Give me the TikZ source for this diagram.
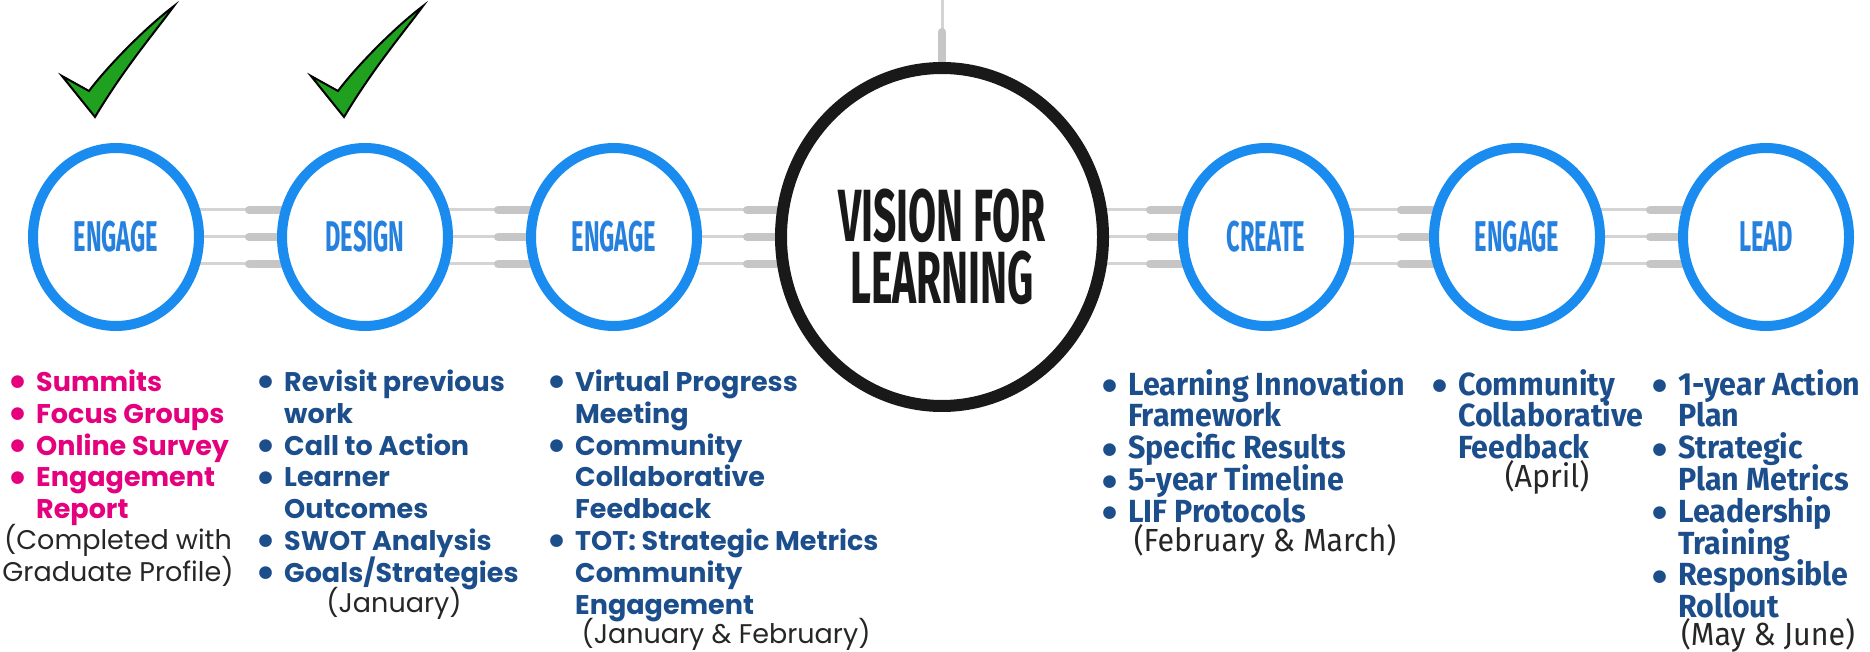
\documentclass[tikz,border=0pt]{standalone}
\usepackage{fontspec}
\setmainfont{Poppins}
\newfontfamily\listfont{Poppins}
\newfontfamily\stagefont{Fira Sans}[FakeStretch=0.55]
\newfontfamily\planfont{Fira Sans}[FakeStretch=0.95]
\newfontfamily\dotfont{DejaVu Sans}
\usetikzlibrary{shapes.geometric,backgrounds,positioning}

\definecolor{ringblue}{HTML}{1A8CF0}
\definecolor{stageblue}{HTML}{2580DE}
\definecolor{navy}{HTML}{1C4E8C}
\definecolor{pinktext}{HTML}{E5007D}
\definecolor{wiregray}{HTML}{D4D4D4}
\definecolor{pluggray}{HTML}{C6C6C6}
\definecolor{tickgreen}{HTML}{1FA01F}
\definecolor{paren}{HTML}{262626}

\newcommand\bul{\makebox[26pt][l]{\hspace*{-4pt}\raisebox{-4.5pt}{\dotfont\fontsize{36}{36}\selectfont •}}}
\newcommand\cont{\hspace*{26pt}}
\newcommand\tightlines{\lineskiplimit=-50pt\lineskip=0pt}

\tikzset{
  stage/.style={ellipse, draw=ringblue, line width=10pt, fill=white,
    minimum width=166pt, minimum height=178pt, inner sep=0pt,
    text=stageblue, font=\stagefont\bfseries\fontsize{43}{43}\selectfont},
  vision/.style={ellipse, draw=black!90, line width=12pt, fill=white,
    minimum width=322pt, minimum height=338pt, inner sep=0pt},
  visiontext/.style={align=center, inner sep=0pt, text=black!90,
    font=\stagefont\bfseries\fontsize{74}{62}\selectfont\tightlines},
  wire/.style={wiregray, line width=3pt},
  plug/.style={pluggray, line width=8pt, line cap=round},
  plan/.style={anchor=north west, align=left, inner sep=0pt,
    font=\listfont\bfseries\fontsize{27}{31.8}\selectfont\tightlines},
  cplan/.style={anchor=north west, align=left, inner sep=0pt, text=navy,
    font=\planfont\bfseries\fontsize{32}{31.8}\selectfont\tightlines},
  note/.style={anchor=north, align=center, inner sep=0pt, text=paren,
    font=\listfont\fontsize{27}{31.8}\selectfont\tightlines},
  cnote/.style={anchor=north, align=center, inner sep=0pt, text=paren,
    font=\planfont\fontsize{32}{31.8}\selectfont\tightlines},
  tick/.pic={
    \filldraw[fill=tickgreen, draw=black, line width=2pt, line join=miter]
      (-33,-41) -- (-6,-26) .. controls (8,-45) and (45,-85) .. (79,-111)
      .. controls (60,-85) and (30,-50) .. (0,0) -- cycle;
  }
}

\begin{document}
\begin{tikzpicture}[x=1pt,y=-1pt]
\useasboundingbox (0,0) rectangle (1870,652);

% done marks
\pic at (95,117) {tick};
\pic at (344,117) {tick};

% stages
\node[stage] (eng1) at (116,237) {ENGAGE};
\node[stage] (design) at (365,237) {DESIGN};
\node[stage] (eng2) at (614,237) {ENGAGE};
\node[vision] (vis) at (942,237) {};
\node[visiontext] (vislabel) at ([yshift=-10pt]vis.center) {VISION FOR\\LEARNING};
\node[stage] (create) at (1266,237) {CREATE};
\node[stage] (eng3) at (1517,237) {ENGAGE};
\node[stage] (lead) at (1766,237) {LEAD};

% connectors
\begin{scope}[on background layer]
\foreach \a/\b in {eng1/design,design/eng2,eng2/vis,vis/create,create/eng3,eng3/lead}
  \foreach \dy in {-27pt,0pt,27pt}{
    \draw[wire] ([xshift=-8pt,yshift=\dy]\a.east) -- ([xshift=-28pt,yshift=\dy]\b.west);
    \draw[plug] ([xshift=-28pt,yshift=\dy]\b.west) -- ([xshift=6pt,yshift=\dy]\b.west);
  }
\coordinate (stemtop) at (942,0);
\draw[wire] (stemtop) -- ([yshift=30pt]vis.north);
\draw[plug] ([yshift=30pt]vis.north) -- ([yshift=-6pt]vis.north);
\end{scope}

% what happens at each stage
\node[plan, text=pinktext] (eng1list) at (10,369)
  {\strut\bul Summits\\\bul Focus Groups\\\bul Online Survey\\\bul Engagement\\\cont Report};
\node[note] (eng1note) at (118,524) {\strut(Completed with\\Graduate Profile)};

\node[plan, text=navy] (designlist) at (258,369)
  {\strut\bul Revisit previous\\\cont work\\\bul Call to Action\\\bul Learner\\\cont Outcomes\\\bul SWOT Analysis\\\bul Goals/Strategies};
\node[note] (designnote) at (394,587) {\strut(January)};

\node[plan, text=navy] (eng2list) at (549,369)
  {\strut\bul Virtual Progress\\\cont Meeting\\\bul Community\\\cont Collaborative\\\cont Feedback\\\bul TOT: Strategic Metrics\\\cont Community\\\cont Engagement};
\node[note] (eng2note) at (726,618) {\strut(January \& February)};

\node[cplan] (createlist) at (1102,369)
  {\strut\bul Learning Innovation\\\cont Framework\\\bul Specific Results\\\bul 5-year Timeline\\\bul LIF Protocols};
\node[cnote] (createnote) at (1265,524) {\strut(February \& March)};

\node[cplan] (eng3list) at (1432,369)
  {\strut\bul Community\\\cont Collaborative\\\cont Feedback};
\node[cnote] (eng3note) at (1547,460) {\strut(April)};

\node[cplan] (leadlist) at (1652,369)
  {\strut\bul 1-year Action\\\cont Plan\\\bul Strategic\\\cont Plan Metrics\\\bul Leadership\\\cont Training\\\bul Responsible\\\cont Rollout};
\node[cnote] (leadnote) at (1768,618) {\strut(May \& June)};
\end{tikzpicture}
\end{document}
